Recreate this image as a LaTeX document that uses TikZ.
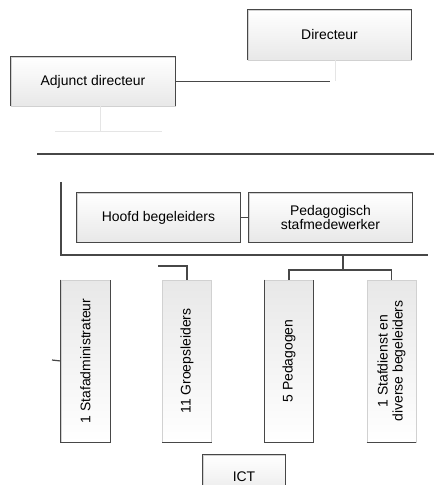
\documentclass[tikz,border=0pt]{standalone}
\usepackage{fontspec}
\setmainfont{Liberation Sans}
\begin{document}
\begin{tikzpicture}[x=1bp,y=-1bp,
  orgbox/.style={draw=black!18, line width=0.6bp, top color=white, bottom color=black!9,
    inner sep=0pt, align=center, font=\fontsize{14}{15}\selectfont},
  hbox/.style={orgbox, minimum width=#1, minimum height=49bp},
  vbox/.style={orgbox, top color=black!9, bottom color=white, rotate=90,
    minimum width=162bp, minimum height=49bp},
  dark/.style={draw=black!72, line width=1.3bp},
  conn/.style={draw=black!72, line width=1.2bp},
  faint/.style={draw=black!10, line width=0.8bp}]
\useasboundingbox (0,0) rectangle (434,485);
% boxes
\node[hbox=163bp, minimum height=50bp] (dir) at (329.5,35) {Directeur};
\node[hbox=164bp] (adj) at (93,81.5) {Adjunct directeur};
\node[hbox=163bp] (hoofd) at (158.5,217.5) {Hoofd begeleiders};
\node[hbox=163bp] (ped) at (330.5,217.5) {Pedagogisch\\stafmedewerker};
\node[vbox] (b1) at (85.5,361) {1 Stafadministrateur};
\node[vbox] (b2) at (187,361) {11 Groepsleiders};
\node[vbox] (b3) at (289,361) {5 Pedagogen};
\node[vbox] (b4) at (391.5,361) {1 Stafdienst en\\diverse begeleiders};
\node[hbox=82bp, minimum height=44bp] (ict) at (244,477) {ICT};
% dark edges (rotated boxes: north = left, south = right, west = bottom, east = top)
\draw[dark] (dir.south west) -- (dir.north west) -- (dir.north east) -- (dir.south east);
\draw[dark] (adj.south west) -- (adj.north west) -- (adj.north east) -- (adj.south east);
\draw[dark] (hoofd.south west) rectangle (hoofd.north east);
\draw[dark] (ped.south west) rectangle (ped.north east);
\draw[dark] (b1.north |- b1.east) -- (b1.north |- b1.west) -- (b1.south |- b1.west) -- (b1.south |- b1.east);
\draw[dark] (b2.north |- b2.west) -- (b2.south |- b2.west);
\draw[dark] (b3.north |- b3.east) -- (b3.north |- b3.west) -- (b3.south |- b3.west) -- (b3.south |- b3.east);
\draw[dark] (b4.north |- b4.west) -- (b4.south |- b4.west);
\draw[dark] (ict.south west) -- (ict.north west) -- (ict.north east) -- (ict.south east);
% coordinates
\coordinate (adjend) at (330,81.5);
\coordinate (dirend) at (335,81.5);
\coordinate (hl1) at (37,154);
\coordinate (hl2) at (434,154);
\coordinate (fr1) at (61,182);
\coordinate (fr2) at (61,255);
\coordinate (fr3) at (428,255);
\coordinate (fb) at (343,255);
\coordinate (fj) at (343,270);
\coordinate (b2s) at (158,266);
\coordinate (b1s) at (52,360);
\coordinate (fa1) at (100,131);
\coordinate (fa2) at (55,131);
\coordinate (fa3) at (162,131);
% faint connectors
\draw[faint] (dir.south -| dirend) -- (dirend);
\draw[faint] (adj.south -| fa1) -- (fa1);
\draw[faint] (fa2) -- (fa3);
% connectors
\draw[conn] (adj.east) -- (adjend);
\draw[conn] (hl1) -- (hl2);
\draw[conn] (fr1) -- (fr2) -- (fr3);
\draw[conn] (hoofd.east) -- (ped.west);
\draw[conn] (fb) -- (fj);
\draw[conn] (fj) -| (b3.east);
\draw[conn] (fj) -| (b4.east);
\draw[conn] (b2s) -| (b2.east);
\draw[conn] (b1s) -- (b1.north);
\end{tikzpicture}
\end{document}
